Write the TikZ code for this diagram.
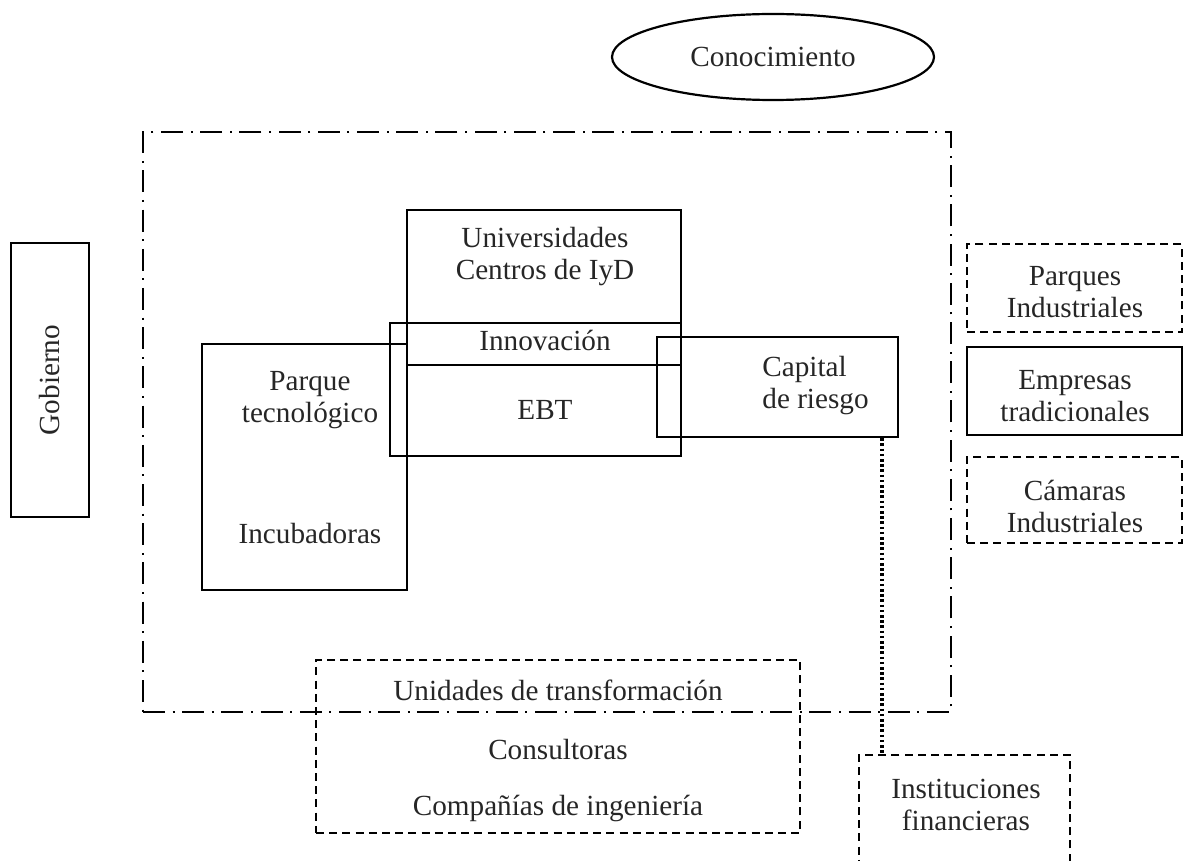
\documentclass[tikz,border=0pt]{standalone}
\usepackage{fontspec}
\setmainfont{Liberation Serif}
\usetikzlibrary{shapes.geometric}
\begin{document}
\begin{tikzpicture}[x=0.5pt,y=-0.5pt,
  every node/.style={font=\fontsize{14.6}{16}\selectfont, text=black!85},
  box/.style={draw, line width=1.25pt, inner sep=0pt},
  dbox/.style={draw, line width=1.2pt, inner sep=0pt, dash pattern=on 4pt off 2.6pt},
  ddbox/.style={draw, line width=1.1pt, inner sep=0pt, dash pattern=on 11pt off 3.8pt on 1pt off 3.8pt},
  txt/.style={align=center, inner sep=0pt},
  link/.style={line width=2pt, dash pattern=on 1.3pt off 1.3pt}]
\clip (0,0) rectangle (1183,861);

% Knowledge ellipse
\node[draw, ellipse, line width=1.1pt, minimum width=161pt, minimum height=43pt, inner sep=0pt] (con) at (773,57) {};
\node[txt] (contx) at (773,57) {Conocimiento};

% Surrounding dash-dot frame
\node[ddbox, minimum width=404pt, minimum height=290pt] (outer) at (547,422) {};

% Government
\node[box, minimum width=39pt, minimum height=137pt] (gob) at (50,380) {};
\node[txt, rotate=90] (gobtx) at (50,380) {Gobierno};

% Central cluster
\node[box, minimum width=137pt, minimum height=77.5pt] (univ) at (544,287.5) {};
\node[box, minimum width=145.5pt, minimum height=66.5pt] (ebt) at (535.5,389.5) {};
\node[box, minimum width=102.5pt, minimum height=123pt] (parque) at (304.5,467) {};
\node[box, minimum width=120.5pt, minimum height=50pt] (cap) at (777.5,387) {};

\node[txt] (univtx) at (545,257) {Universidades\\Centros de IyD};
\node[txt] (innovtx) at (545,340) {Innovación};
\node[txt] (ebttx) at (545,410) {EBT};
\node[txt] (parquetx) at (310,400) {Parque\\tecnológico};
\node[txt] (incubtx) at (310,534) {Incubadoras};
\node[align=left, inner sep=0pt, anchor=west] (captx) at (762,386) {Capital\\de riesgo};

% Right column
\node[dbox, minimum width=107.5pt, minimum height=44pt] (pind) at (1074.5,288) {};
\node[txt] (pindtx) at (1075,292) {Parques\\Industriales};
\node[box, minimum width=107.5pt, minimum height=44pt] (empr) at (1074.5,391) {};
\node[txt] (emprtx) at (1075,396) {Empresas\\tradicionales};
\node[dbox, minimum width=107.5pt, minimum height=43pt] (cam) at (1074.5,500) {};
\node[txt] (camtx) at (1075,506) {Cámaras\\Industriales};

% Bottom boxes
\node[dbox, minimum width=242pt, minimum height=86.5pt] (unid) at (558,746.5) {};
\node[txt] (unidtx) at (558,690) {Unidades de transformación};
\node[txt] (constx) at (558,750) {Consultoras};
\node[txt] (comptx) at (558,808) {Compañías de ingeniería};

\node[dbox, minimum width=105.5pt, minimum height=60pt] (inst) at (964.5,815) {};
\node[txt] (insttx) at (966,805) {Instituciones\\financieras};

% Dotted link from venture capital to financial institutions
\coordinate (lx) at (882,0);
\draw[link] (cap.south -| lx) -- (inst.north -| lx);
\end{tikzpicture}
\end{document}
